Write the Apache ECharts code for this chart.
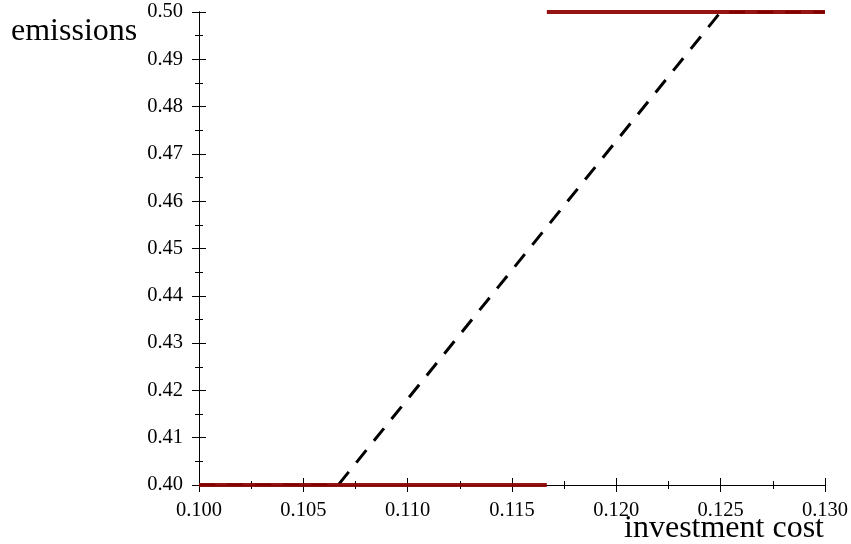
<!DOCTYPE html>
<html><head><meta charset="utf-8">
<script src="https://cdn.jsdelivr.net/npm/echarts@6/dist/echarts.min.js"></script>
<style>html,body{margin:0;padding:0;background:#fff}#c{width:851px;height:544px}</style>
</head><body><div id="c"></div>
<script>
const xTicks = [0.100, 0.105, 0.110, 0.115, 0.120, 0.125, 0.130];
const yTicks = [0.40, 0.41, 0.42, 0.43, 0.44, 0.45, 0.46, 0.47, 0.48, 0.49, 0.50];
const dashedLine = [[0.100, 0.40], [0.10667, 0.40], [0.125, 0.50], [0.130, 0.50]];
const redLow = [[0.100, 0.40], [0.11667, 0.40]];
const redHigh = [[0.11667, 0.50], [0.130, 0.50]];
const xTitle = 'investment cost';
const yTitle = 'emissions';

const font = 'Liberation Serif';
const chart = echarts.init(document.getElementById('c'));
function xAx(inside, labels) {
  return {
    type: 'value', position: 'bottom', min: xTicks[0], max: xTicks[xTicks.length-1], interval: 0.005,
    axisLine: {show: true, onZero: false, lineStyle: {color: '#000', width: 1}},
    axisTick: {show: true, inside: inside, length: 7, lineStyle: {color: '#000', width: 1}},
    minorTick: {show: true, splitNumber: 2, length: 4, lineStyle: {color: '#000', width: 1}},
    splitLine: {show: false},
    axisLabel: {show: labels, color: '#000', fontFamily: font, fontSize: 20.5, margin: 15,
      formatter: v => v.toFixed(3)}
  };
}
function yAx(inside, labels) {
  return {
    type: 'value', position: 'left', min: yTicks[0], max: yTicks[yTicks.length-1], interval: 0.01,
    axisLine: {show: true, onZero: false, lineStyle: {color: '#000', width: 1}},
    axisTick: {show: true, inside: inside, length: 7, lineStyle: {color: '#000', width: 1}},
    minorTick: {show: true, splitNumber: 2, length: 4, lineStyle: {color: '#000', width: 1}},
    splitLine: {show: false},
    axisLabel: {show: labels, color: '#000', fontFamily: font, fontSize: 20.5, margin: 16,
      formatter: v => v.toFixed(2)}
  };
}
chart.setOption({
  animation: false,
  grid: {left: 199, right: 25, top: 12, bottom: 59, containLabel: false},
  xAxis: [xAx(false, true), xAx(true, false)],
  yAxis: [yAx(false, true), yAx(true, false)],
  graphic: [
    {type: 'text', left: 11, top: 16, style: {text: yTitle, font: '32px "Liberation Serif"', fill: '#000'}},
    {type: 'text', right: 27, top: 513, style: {text: xTitle, font: '32px "Liberation Serif"', fill: '#000'}}
  ],
  series: [
    {type: 'line', data: dashedLine, symbol: 'none', z: 2,
      lineStyle: {color: '#000', width: 3, type: [16, 12], cap: 'butt'}},
    {type: 'line', data: redLow, symbol: 'none', z: 3,
      lineStyle: {color: '#8b0000', width: 4, opacity: 0.92}},
    {type: 'line', data: redHigh, symbol: 'none', z: 3,
      lineStyle: {color: '#8b0000', width: 4, opacity: 0.92}}
  ]
});
</script></body></html>
